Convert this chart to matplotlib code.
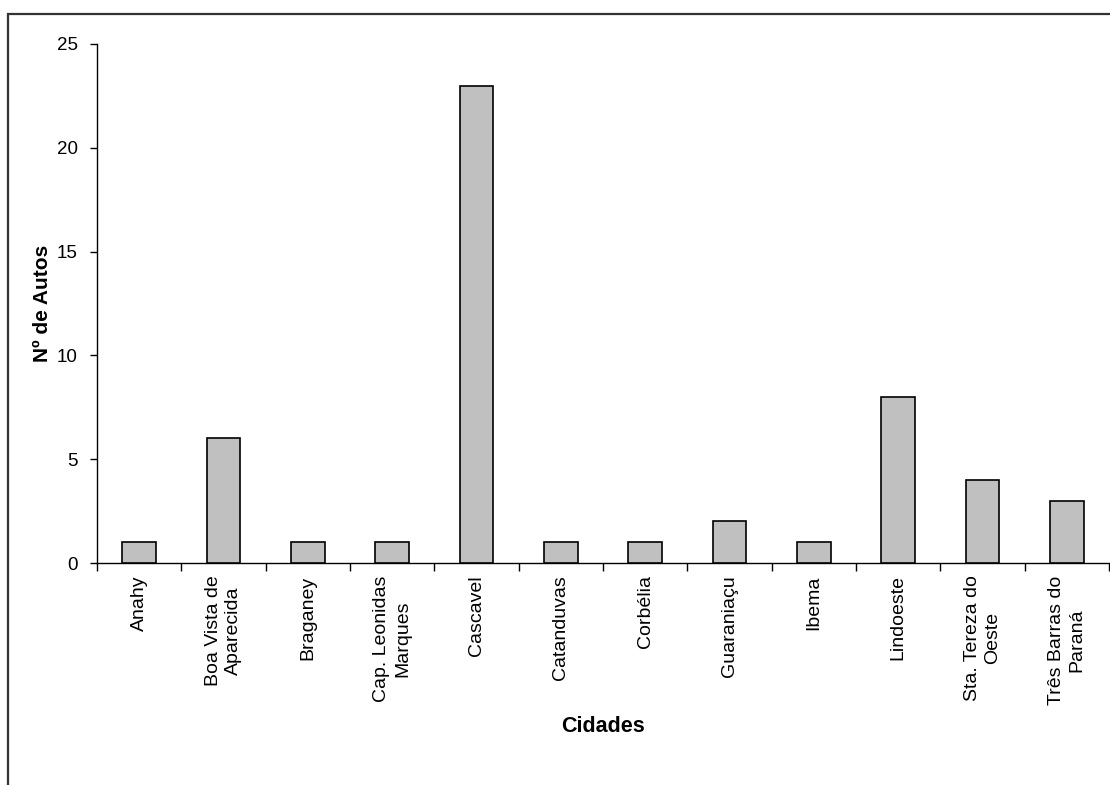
import matplotlib
matplotlib.use("Agg")
import matplotlib.pyplot as plt
from matplotlib.patches import Rectangle

plt.rcParams['font.family'] = ['Liberation Sans', 'DejaVu Sans']

cidades = ["Anahy", "Boa Vista de\nAparecida", "Braganey", "Cap. Leonidas\nMarques",
           "Cascavel", "Catanduvas", "Corbélia", "Guaraniaçu", "Ibema",
           "Lindoeste", "Sta. Tereza do\nOeste", "Três Barras do\nParaná"]
autos = [1, 6, 1, 1, 23, 1, 1, 2, 1, 8, 4, 3]
y_ticks = [0, 5, 10, 15, 20, 25]

W, H = 1110, 785
fig = plt.figure(figsize=(W / 100, H / 100), dpi=100)

# outer chart frame (runs off the right and bottom edges)
fig.patches.append(Rectangle((8 / W, -0.05), 1.2, 1 - 14 / H + 0.05,
                             transform=fig.transFigure, fill=False,
                             edgecolor='#333333', linewidth=1.6))

ax = fig.add_axes([97 / W, (H - 563) / H, 1012 / W, (563 - 44) / H])
x = list(range(len(cidades)))
ax.bar(x, autos, width=0.4, color='#C0C0C0', edgecolor='black', linewidth=1.2, zorder=3)

ax.set_xlim(-0.5, len(cidades) - 0.5)
ax.set_ylim(0, 25)
ax.set_yticks(y_ticks)
ax.tick_params(axis='y', direction='out', length=5, width=1, labelsize=13.5, pad=9)

# category boundaries as major ticks, names on minor ticks
ax.set_xticks([i - 0.5 for i in range(len(cidades) + 1)])
ax.set_xticklabels([])
ax.set_xticks(x, minor=True)
ax.set_xticklabels(cidades, minor=True, rotation=90, fontsize=14,
                   va='top', ha='center', multialignment='center', linespacing=1.3)
ax.tick_params(axis='x', which='major', direction='out', length=6, width=1)
ax.tick_params(axis='x', which='minor', length=0, pad=9)

for s in ('top', 'right'):
    ax.spines[s].set_visible(False)
for s in ('left', 'bottom'):
    ax.spines[s].set_linewidth(1)
    ax.spines[s].set_color('black')

ax.set_ylabel("Nº de Autos", fontsize=15, fontweight='bold', labelpad=3)
ax.set_xlabel("Cidades", fontsize=15.5, fontweight='bold', labelpad=8)

fig.savefig("out.png", dpi=100)
